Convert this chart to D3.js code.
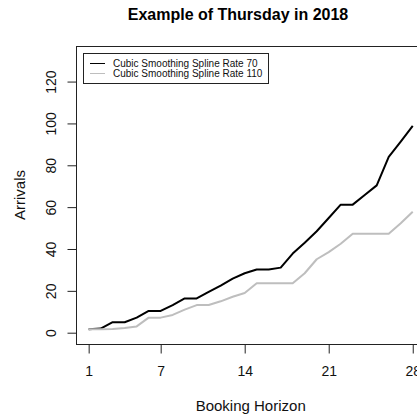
<!DOCTYPE html>
<html>
<head>
<meta charset="utf-8">
<script src="https://cdn.jsdelivr.net/npm/d3@7"></script>
<style>
  html, body { margin: 0; padding: 0; background: #fff; }
  svg { display: block; font-family: "Liberation Sans", Arial, sans-serif; }
</style>
</head>
<body>
<svg id="chart" width="417" height="418"></svg>
<script>
// ---- data ----
const days = d3.range(1, 29);
const rate70 = [1.6, 2, 5, 5, 7.2, 10.4, 10.4, 13.2, 16.4, 16.4, 19.5, 22.5, 25.8, 28.4,
                30.2, 30.2, 31.1, 37.8, 43, 48.5, 54.8, 61.2, 61.2, 65.8, 70.4, 84, 91.3, 98.8];
const rate110 = [1.6, 1.6, 1.8, 2.2, 3, 7.2, 7.2, 8.5, 11, 13.2, 13.2, 15, 17.2, 19,
                 23.6, 23.6, 23.6, 23.6, 28.4, 35.1, 38.5, 42.5, 47.3, 47.3, 47.3, 47.3, 52.3, 57.8];
const xTicks = [1, 7, 14, 21, 28];
const yTicks = [0, 20, 40, 60, 80, 100, 120];
const seriesNames = ["Cubic Smoothing Spline Rate 70", "Cubic Smoothing Spline Rate 110"];
const seriesColors = ["#000000", "#bebebe"];
const titleText = "Example of Thursday in 2018";
const xTitle = "Booking Horizon";
const yTitle = "Arrivals";

// ---- layout ----
const svg = d3.select("#chart");
const xDomain = [-0.08, 29.08];
const yDomain = [-5.4, 137];
const x = d3.scaleLinear().domain(xDomain).range([75.7, 425.7]);
const y = d3.scaleLinear().domain(yDomain).range([344, 46]);

const pLeft = x(xDomain[0]), pRight = x(xDomain[1]);
const pTop = y(yDomain[1]), pBottom = y(yDomain[0]);

// title
svg.append("text")
  .attr("x", 238).attr("y", 20)
  .attr("text-anchor", "middle")
  .attr("font-weight", "bold")
  .attr("font-size", 16)
  .attr("fill", "#000")
  .text(titleText);

// lines
const line = d3.line().x((d, i) => x(days[i])).y(d => y(d));
[rate70, rate110].forEach((s, k) => {
  svg.append("path")
    .datum(s)
    .attr("d", line)
    .attr("fill", "none")
    .attr("stroke", seriesColors[k])
    .attr("stroke-width", 2)
    .attr("stroke-linejoin", "round");
});

// box
svg.append("rect")
  .attr("x", Math.round(pLeft) + 0.5).attr("y", Math.round(pTop) + 0.5)
  .attr("width", Math.round(pRight) - Math.round(pLeft))
  .attr("height", Math.round(pBottom) - Math.round(pTop))
  .attr("fill", "none").attr("stroke", "#222").attr("stroke-width", 1);

// x axis
const xAxis = svg.append("g")
  .attr("transform", `translate(0,${Math.round(pBottom) + 0.5})`)
  .call(d3.axisBottom(x).tickValues(xTicks).tickSize(9).tickSizeOuter(0).tickFormat(d3.format("d")));
xAxis.select(".domain").remove();
xAxis.selectAll(".tick line").attr("stroke", "#222");
xAxis.selectAll(".tick text")
  .attr("y", 31.5).attr("dy", 0)
  .attr("font-size", 14).attr("fill", "#111")
  .attr("font-family", "Liberation Sans, Arial, sans-serif");

// y axis
const yAxis = svg.append("g")
  .attr("transform", `translate(${Math.round(pLeft) + 0.5},0)`)
  .call(d3.axisLeft(y).tickValues(yTicks).tickSize(9).tickSizeOuter(0).tickFormat(d3.format("d")));
yAxis.select(".domain").remove();
yAxis.selectAll(".tick line").attr("stroke", "#222");
yAxis.selectAll(".tick text")
  .attr("transform", "rotate(-90)")
  .attr("x", 0).attr("y", -21).attr("dy", 0)
  .attr("text-anchor", "middle")
  .attr("font-size", 14).attr("fill", "#111")
  .attr("font-family", "Liberation Sans, Arial, sans-serif");

// axis titles
svg.append("text")
  .attr("x", (pLeft + pRight) / 2).attr("y", 411)
  .attr("text-anchor", "middle")
  .attr("font-size", 15).attr("fill", "#111")
  .text(xTitle);
svg.append("text")
  .attr("transform", `translate(25,${(pTop + pBottom) / 2}) rotate(-90)`)
  .attr("text-anchor", "middle")
  .attr("font-size", 15).attr("fill", "#111")
  .text(yTitle);

// legend
const lg = svg.append("g");
lg.append("rect")
  .attr("x", 83.5).attr("y", 53.5).attr("width", 185).attr("height", 30)
  .attr("fill", "#fff").attr("stroke", "#222").attr("stroke-width", 1);
seriesNames.forEach((name, k) => {
  const ly = 63.5 + k * 10;
  lg.append("line")
    .attr("x1", 90).attr("x2", 105).attr("y1", ly).attr("y2", ly)
    .attr("stroke", seriesColors[k]).attr("stroke-width", 1);
  lg.append("text")
    .attr("x", 113).attr("y", ly + 3.5)
    .attr("font-size", 10).attr("fill", "#111")
    .text(name);
});
</script>
</body>
</html>
